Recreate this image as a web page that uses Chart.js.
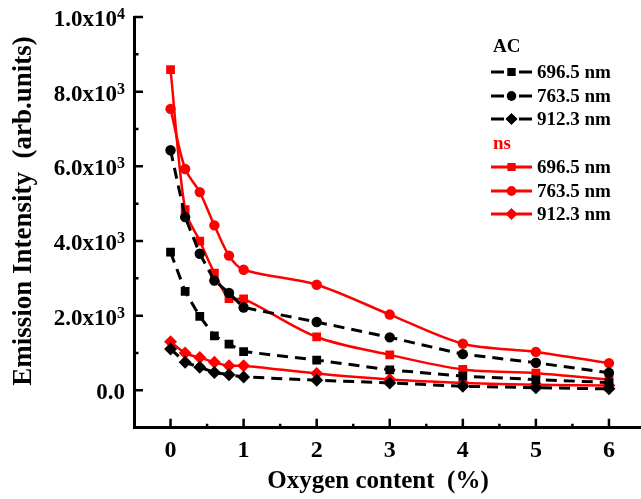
<!DOCTYPE html>
<html>
<head>
<meta charset="utf-8">
<script src="https://cdn.jsdelivr.net/npm/chart.js@4/dist/chart.umd.min.js"></script>
<style>
  html, body { margin: 0; padding: 0; background: #fff; overflow: hidden; }
  #wrap { width: 660px; height: 499px; }
</style>
</head>
<body>
<div id="wrap"><canvas id="chart"></canvas></div>
<script>
// Oxygen content (%)
const oxygen = [0, 0.2, 0.4, 0.6, 0.8, 1, 2, 3, 4, 5, 6];

// AC discharge, emission intensity
const ac6965 = [3700, 2650, 1980, 1460, 1240, 1040, 810, 550, 380, 290, 210];
const ac7635 = [6430, 4640, 3660, 2940, 2610, 2220, 1830, 1420, 970, 740, 470];
const ac9123 = [1110, 750, 620, 480, 420, 360, 270, 200, 110, 70, 40];

// ns discharge, emission intensity
const ns6965 = [8590, 4840, 4000, 3140, 2460, 2450, 1430, 950, 560, 460, 290];
const ns7635 = [7540, 5930, 5310, 4420, 3610, 3230, 2830, 2030, 1250, 1030, 730];
const ns9123 = [1300, 1000, 880, 750, 660, 660, 450, 290, 200, 150, 130];

const waveLabels = ['696.5 nm', '763.5 nm', '912.3 nm'];
const groupLabels = ['AC', 'ns'];

const xTicks = [0, 1, 2, 3, 4, 5, 6];
const yTicks = [0, 2000, 4000, 6000, 8000, 10000];
const yTickBase = ['0.0', '2.0x10', '4.0x10', '6.0x10', '8.0x10', '1.0x10'];
const yTickExp = ['', '3', '3', '3', '3', '4'];

const FONT = "'Liberation Serif', 'Times New Roman', serif";
const shapes = ['rect', 'circle', 'rectRot'];
const radii = [6.2, 5.2, 6.5];

function toPoints(vals) {
    return vals.map((v, i) => ({ x: oxygen[i], y: v }));
}

function acSet(vals, i) {
    return {
        label: 'AC ' + waveLabels[i],
        data: toPoints(vals),
        borderColor: '#000',
        backgroundColor: '#000',
        borderWidth: 3,
        borderDash: [11, 7],
        pointStyle: shapes[i],
        pointRadius: radii[i],
        pointBorderWidth: 0,
        tension: 0
    };
}

function nsSet(vals, i) {
    return {
        label: 'ns ' + waveLabels[i],
        data: toPoints(vals),
        borderColor: '#ff0000',
        backgroundColor: '#ff0000',
        borderWidth: 2.5,
        pointStyle: shapes[i],
        pointRadius: radii[i],
        pointBorderWidth: 0,
        tension: 0.3
    };
}

// ticks (inward), tick labels, axis titles and the grouped legend
const decor = {
    id: 'decor',
    afterDraw(chart) {
        const { ctx, scales: { x, y } } = chart;
        const x0 = x.getPixelForValue(x.min);
        const y0 = y.getPixelForValue(y.min);
        ctx.save();
        ctx.strokeStyle = '#000';
        ctx.lineWidth = 2.5;
        ctx.beginPath();
        for (let i = 1; i < 14; i++) {
            const v = -0.5 + i * 0.5;
            const px = x.getPixelForValue(v);
            const len = i % 2 === 1 ? 9 : 4;
            ctx.moveTo(px, y0);
            ctx.lineTo(px, y0 - len);
        }
        for (let i = 1; i <= 11; i++) {
            const v = -1000 + i * 1000;
            const py = y.getPixelForValue(v);
            const len = v % 2000 === 0 ? 9 : 4.5;
            ctx.moveTo(x0, py);
            ctx.lineTo(x0 + len, py);
        }
        ctx.stroke();

        ctx.fillStyle = '#000';
        // x tick labels
        ctx.font = 'bold 24px ' + FONT;
        ctx.textAlign = 'center';
        ctx.textBaseline = 'alphabetic';
        xTicks.forEach(v => {
            ctx.fillText(String(v), x.getPixelForValue(v), 457);
        });

        // y tick labels with superscript exponent
        yTicks.forEach((v, i) => {
            const py = y.getPixelForValue(v);
            const right = 125;
            ctx.font = 'bold 16px ' + FONT;
            const ew = yTickExp[i] ? ctx.measureText(yTickExp[i]).width : 0;
            if (yTickExp[i]) {
                ctx.textAlign = 'right';
                ctx.fillText(yTickExp[i], right, py + 2);
            }
            ctx.font = 'bold 23px ' + FONT;
            ctx.textAlign = 'right';
            ctx.fillText(yTickBase[i], right - ew, py + 9);
        });

        // axis titles
        ctx.font = 'bold 25px ' + FONT;
        ctx.textAlign = 'center';
        ctx.fillText('Oxygen content  (%)', 378, 488);
        ctx.save();
        ctx.translate(31, 211);
        ctx.rotate(-Math.PI / 2);
        ctx.font = 'bold 27px ' + FONT;
        ctx.fillText('Emission Intensity  (arb.units)', 0, 0);
        ctx.restore();

        // legend
        const rows = [
            { head: groupLabels[0], color: '#000', y: 47 },
            { ds: 0, y: 72 }, { ds: 1, y: 96 }, { ds: 2, y: 119 },
            { head: groupLabels[1], color: '#ff0000', y: 144 },
            { ds: 3, y: 167 }, { ds: 4, y: 191 }, { ds: 5, y: 214 }
        ];
        ctx.textBaseline = 'middle';
        ctx.textAlign = 'left';
        rows.forEach(r => {
            if (r.head) {
                ctx.font = 'bold 19px ' + FONT;
                ctx.fillStyle = r.color;
                ctx.fillText(r.head, 493, r.y);
                return;
            }
            const d = chart.data.datasets[r.ds];
            ctx.strokeStyle = d.borderColor;
            ctx.fillStyle = d.backgroundColor;
            ctx.lineWidth = 3;
            ctx.setLineDash([]);
            ctx.beginPath();
            if (d.borderDash) {
                ctx.moveTo(491, r.y); ctx.lineTo(504, r.y);
                ctx.moveTo(519, r.y); ctx.lineTo(532, r.y);
            } else {
                ctx.moveTo(491, r.y); ctx.lineTo(532, r.y);
            }
            ctx.stroke();
            Chart.helpers.drawPoint(ctx, {
                pointStyle: d.pointStyle,
                radius: d.pointRadius * 0.9,
                rotation: 0,
                borderWidth: 0
            }, 511.5, r.y);
            ctx.fill();
            ctx.font = 'bold 19px ' + FONT;
            ctx.fillStyle = '#000';
            ctx.fillText(waveLabels[r.ds % 3], 537, r.y + 1);
        });
        ctx.restore();
    }
};

new Chart(document.getElementById('chart'), {
    type: 'line',
    data: {
        datasets: [
            acSet(ac6965, 0), acSet(ac7635, 1), acSet(ac9123, 2),
            nsSet(ns6965, 0), nsSet(ns7635, 1), nsSet(ns9123, 2)
        ]
    },
    options: {
        responsive: true,
        maintainAspectRatio: false,
        animation: false,
        layout: { padding: { left: 134, top: 17, right: 14.5, bottom: 71.3 } },
        plugins: { legend: { display: false }, tooltip: { enabled: false } },
        scales: {
            x: {
                type: 'linear',
                min: -0.5,
                max: 6.5,
                grid: { display: false },
                ticks: { display: false },
                border: { display: true, color: '#000', width: 3 },
                afterFit(scale) { scale.height = 0; }
            },
            y: {
                min: -1000,
                max: 10000,
                grid: { display: false },
                ticks: { display: false },
                border: { display: true, color: '#000', width: 3 },
                afterFit(scale) { scale.width = 0; }
            }
        }
    },
    plugins: [decor]
});
</script>
</body>
</html>
